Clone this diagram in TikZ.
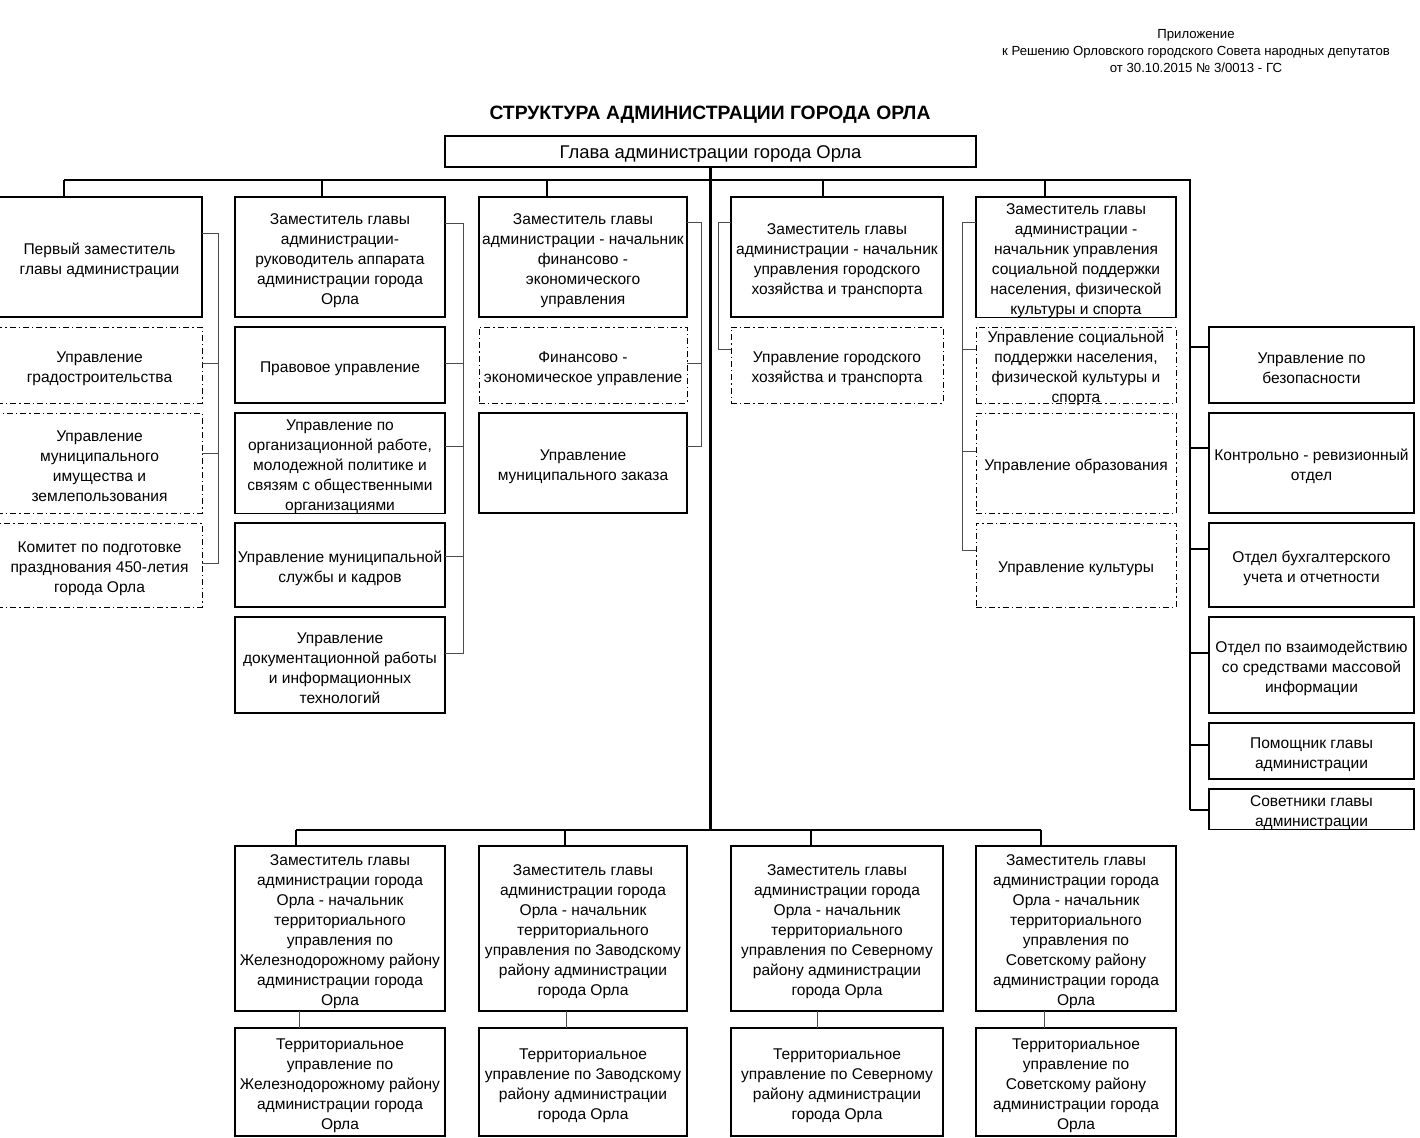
\documentclass[tikz,border=0pt]{standalone}
\usepackage{fontspec}
\setmainfont{Liberation Sans}
\usepackage{tikz}
\usetikzlibrary{calc}
\newcommand\bodyfont{\fontsize{8.85}{11.38}\selectfont}
\newcommand\st{\rule{0pt}{10pt}}

\begin{document}
\begin{tikzpicture}[
  x=0.02cm, y=-0.02cm,
  box/.style={draw, line width=0.6pt, rectangle, align=center, anchor=north west,
    inner xsep=1pt, inner ysep=0pt, outer sep=0pt, font=\bodyfont},
  dashbox/.style={box, line width=0.5pt, dash pattern=on 3.4pt off 1.7pt on 0.8pt off 1.7pt},
  sz/.style 2 args={minimum width=#1*0.02cm, minimum height=#2*0.02cm},
  bus/.style={line width=1.2pt},
  sub/.style={line width=0.5pt, black!70}]
  \useasboundingbox (0,0) rectangle (1420,1137);

  % header
  \node[font=\fontsize{7.5}{9.6}\selectfont, align=center] (appx) at (1196,51)
    {Приложение\\к Решению Орловского городского Совета народных депутатов\\от 30.10.2015 № 3/0013 - ГС};
  \node[font=\fontsize{11}{12}\selectfont\bfseries] (title) at (710,115) {СТРУКТУРА АДМИНИСТРАЦИИ ГОРОДА ОРЛА};
  \node[box, sz={531}{31}, line width=1.4pt, font=\fontsize{10.5}{12}\selectfont] (head) at (445,136) {\st Глава администрации города Орла};

  % first deputy
  \node[box, sz={205}{120}] (d1) at (-3,197) {\st Первый заместитель\\главы администрации};
  \node[dashbox, sz={205}{76}] (u1) at (-3,327) {\st Управление\\градостроительства};
  \node[dashbox, sz={205}{100}] (u2) at (-3,413) {\st Управление\\муниципального\\имущества и\\землепользования};
  \node[dashbox, sz={205}{84}] (u3) at (-3,523) {\st Комитет по подготовке\\празднования 450-летия\\города Орла};

  % apparatus
  \node[box, sz={210}{120}] (d2) at (235,197) {\st Заместитель главы\\администрации-\\руководитель аппарата\\администрации города\\Орла};
  \node[box, sz={210}{76}] (p1) at (235,327) {\st Правовое управление};
  \node[box, sz={210}{100}] (p2) at (235,413) {\st Управление по\\организационной работе,\\молодежной политике и\\связям с общественными\\организациями};
  \node[box, sz={210}{84}] (p3) at (235,523) {\st Управление муниципальной\\службы и кадров};
  \node[box, sz={210}{96}] (p4) at (235,617) {\st Управление\\документационной работы\\и информационных\\технологий};

  % finance
  \node[box, sz={208}{120}] (d3) at (479,197) {\st Заместитель главы\\администрации - начальник\\финансово -\\экономического\\управления};
  \node[dashbox, sz={208}{76}] (f1) at (479,327) {\st Финансово -\\экономическое управление};
  \node[box, sz={208}{100}] (f2) at (479,413) {\st Управление\\муниципального заказа};

  % city economy
  \node[box, sz={212}{120}] (d4) at (731,197) {\st Заместитель главы\\администрации - начальник\\управления городского\\хозяйства и транспорта};
  \node[dashbox, sz={212}{76}] (g1) at (731,327) {\st Управление городского\\хозяйства и транспорта};

  % social
  \node[box, sz={200}{120}] (d5) at (976,197) {\st Заместитель главы\\администрации -\\начальник управления\\социальной поддержки\\населения, физической\\культуры и спорта};
  \node[dashbox, sz={200}{76}] (s1) at (976,327) {\rule{0pt}{9pt}Управление социальной\\поддержки населения,\\физической культуры и\\\smash{спорта}};
  \node[dashbox, sz={200}{100}] (s2) at (976,413) {\st Управление образования};
  \node[dashbox, sz={200}{84}] (s3) at (976,523) {\st Управление культуры};

  % directly under the head
  \node[box, sz={205}{76}] (r1) at (1209,327) {\st Управление по\\безопасности};
  \node[box, sz={205}{100}] (r2) at (1209,413) {\st Контрольно - ревизионный\\отдел};
  \node[box, sz={205}{84}] (r3) at (1209,523) {\st Отдел бухгалтерского\\учета и отчетности};
  \node[box, sz={205}{96}] (r4) at (1209,617) {\st Отдел по взаимодействию\\со средствами массовой\\информации};
  \node[box, sz={205}{56}] (r5) at (1209,723) {\st Помощник главы\\администрации};
  \node[box, sz={205}{40}] (r6) at (1209,789) {\st Советники главы\\администрации};

  % territorial
  \node[box, sz={210}{165}] (t1) at (235,846) {\st Заместитель главы\\администрации города\\Орла - начальник\\территориального\\управления по\\Железнодорожному району\\администрации города\\Орла};
  \node[box, sz={208}{165}] (t2) at (479,846) {\st Заместитель главы\\администрации города\\Орла - начальник\\территориального\\управления по Заводскому\\району администрации\\города Орла};
  \node[box, sz={212}{165}] (t3) at (731,846) {\st Заместитель главы\\администрации города\\Орла - начальник\\территориального\\управления по Северному\\району администрации\\города Орла};
  \node[box, sz={200}{165}] (t4) at (976,846) {\st Заместитель главы\\администрации города\\Орла - начальник\\территориального\\управления по\\Советскому району\\администрации города\\Орла};
  \node[box, sz={210}{108}] (b1) at (235,1028) {\st Территориальное\\управление по\\Железнодорожному району\\администрации города\\Орла};
  \node[box, sz={208}{108}] (b2) at (479,1028) {\st Территориальное\\управление по Заводскому\\району администрации\\города Орла};
  \node[box, sz={212}{108}] (b3) at (731,1028) {\st Территориальное\\управление по Северному\\району администрации\\города Орла};
  \node[box, sz={200}{108}] (b4) at (976,1028) {\st Территориальное\\управление по\\Советскому району\\администрации города\\Орла};

  % main lines
  \coordinate (bl) at (64,180);
  \coordinate (br) at (1190,180);
  \coordinate (tbl) at ($(t1.north west)+(61,-16)$);
  \draw[bus] (head.south) -- (head.south |- tbl);
  \draw[bus] (bl) -- (br) -- ($(r6.north west)+(-19,21)$);
  \foreach \n/\d in {d1/67,d2/87,d3/68,d4/92,d5/69}
    \draw[bus] ($(\n.north west)+(\d,0)$) -- ++(0,-17);
  \foreach \n/\d in {r1/20,r2/35,r3/26,r4/36,r5/22,r6/21}
    \draw[bus] ($(\n.north west)+(0,\d)$) -- ++(-19,0);
  \draw[bus] (tbl) -- ($(t4.north west)+(65,-16)$);
  \foreach \n/\d in {t1/61,t2/86,t3/80,t4/65}
    \draw[bus] ($(\n.north west)+(\d,0)$) -- ++(0,-16);
  \foreach \n/\m/\d in {t1/b1/64,t2/b2/87,t3/b3/86,t4/b4/68}
    \draw[sub] ($(\n.south west)+(\d,0)$) -- ($(\m.north west)+(\d,0)$);

  % deputies to their departments
  \draw[sub] ($(d1.north east)+(0,36)$) -- ++(16,0) -- ($(u3.north east)+(16,40)$) -- ++(-16,0);
  \foreach \n/\d in {u1/36,u2/40}
    \draw[sub] ($(\n.north east)+(0,\d)$) -- ++(16,0);
  \draw[sub] ($(d2.north east)+(0,26)$) -- ++(18,0) -- ($(p4.north east)+(18,36)$) -- ++(-18,0);
  \foreach \n/\d in {p1/36,p2/33,p3/33}
    \draw[sub] ($(\n.north east)+(0,\d)$) -- ++(18,0);
  \draw[sub] ($(d3.north east)+(0,25)$) -- ++(14,0) -- ($(f2.north east)+(14,33)$) -- ++(-14,0);
  \draw[sub] ($(f1.north east)+(0,36)$) -- ++(14,0);
  \draw[sub] ($(d4.north west)+(0,25)$) -- ++(-13,0) -- ($(g1.north west)+(-13,22)$) -- ++(13,0);
  \draw[sub] ($(d5.north west)+(0,25)$) -- ++(-14,0) -- ($(s3.north west)+(-14,27)$) -- ++(14,0);
  \foreach \n/\d in {s1/22,s2/38}
    \draw[sub] ($(\n.north west)+(0,\d)$) -- ++(-14,0);
\end{tikzpicture}
\end{document}
